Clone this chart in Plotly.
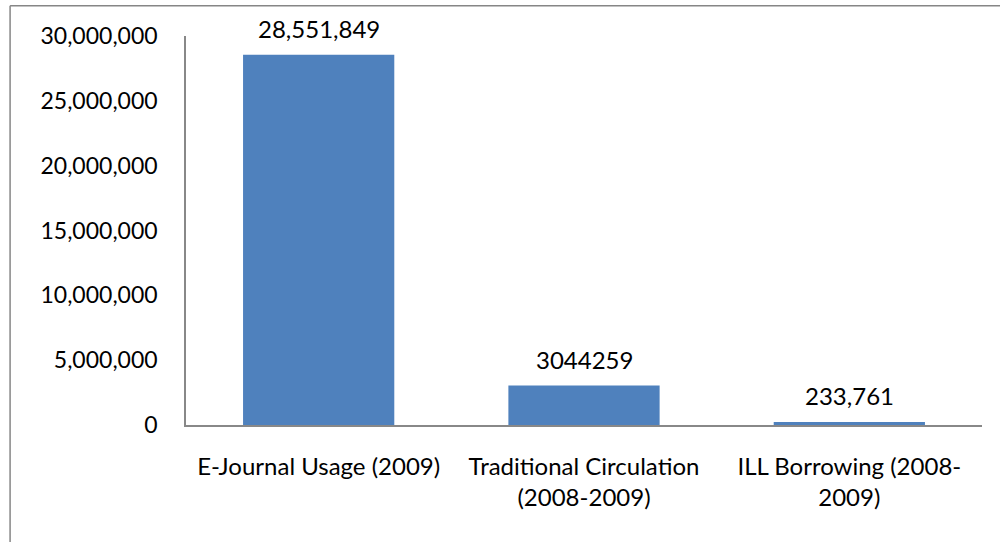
import plotly.graph_objects as go

categories = ["E-Journal Usage (2009)", "Traditional Circulation<br>(2008-2009)", "ILL Borrowing (2008-<br>2009)"]
values = [28551849, 3044259, 233761]
value_labels = ["28,551,849", "3044259", "233,761"]
tick_vals = [0, 5000000, 10000000, 15000000, 20000000, 25000000, 30000000]
tick_text = ["0", "5,000,000", "10,000,000", "15,000,000", "20,000,000", "25,000,000", "30,000,000"]

FONT = "Lato, 'Open Sans', sans-serif"

fig = go.Figure(go.Bar(
    x=categories, y=values,
    marker=dict(color="#4F81BD", line=dict(width=0)),
    width=0.57,
))

for c, v, t in zip(categories, values, value_labels):
    fig.add_annotation(x=c, y=v, text=t, showarrow=False, yanchor="bottom",
                       yshift=10, font=dict(family=FONT, size=24, color="black"))

fig.update_layout(
    width=1000, height=542,
    margin=dict(l=186, r=18, t=36, b=117),
    paper_bgcolor="white", plot_bgcolor="white",
    showlegend=False,
    font=dict(family=FONT, size=24, color="black"),
    xaxis=dict(showline=True, linecolor="#888888", linewidth=1.5, ticks="",
               ticklabelstandoff=19,
               tickfont=dict(family=FONT, size=24, color="black"), showgrid=False),
    yaxis=dict(range=[0, 30000000], tickvals=tick_vals, ticktext=tick_text,
               showline=True, linecolor="#888888", linewidth=1.5, ticks="",
               showgrid=False, zeroline=False, ticklabelstandoff=22,
               tickfont=dict(family=FONT, size=23, color="black")),
    shapes=[
        dict(type="line", xref="paper", yref="paper", x0=-0.221, x1=1.05, y0=1.078, y1=1.078,
             line=dict(color="#868686", width=1.5)),
        dict(type="line", xref="paper", yref="paper", x0=-0.221, x1=-0.221, y0=1.078, y1=-0.4,
             line=dict(color="#868686", width=1.5)),
    ],
)

fig.write_html("out.html")
